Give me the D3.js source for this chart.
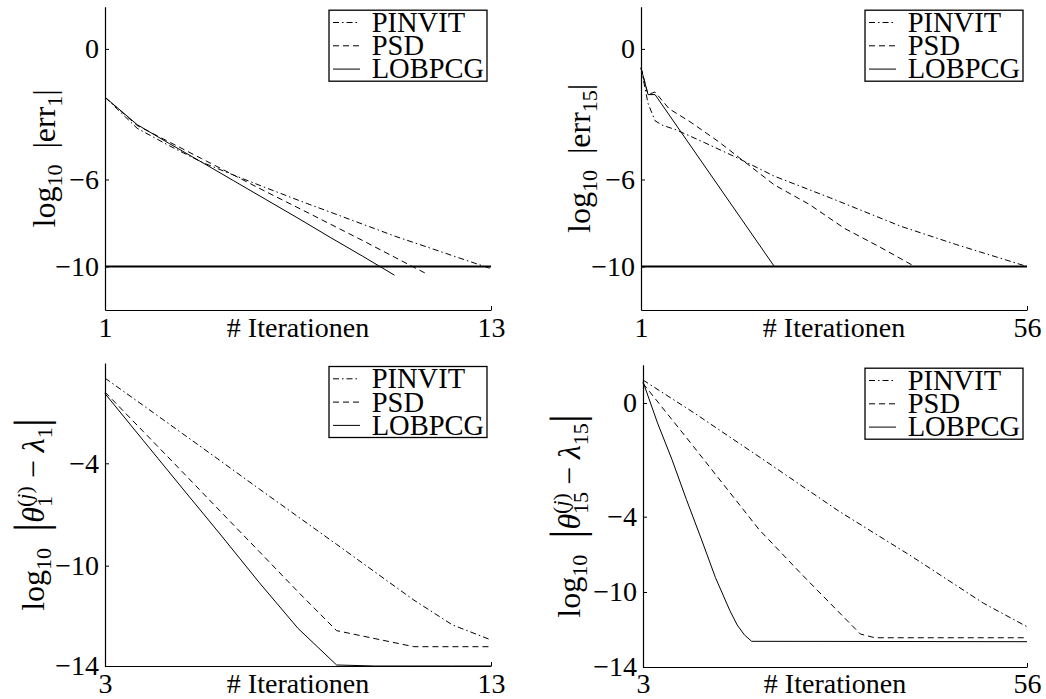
<!DOCTYPE html>
<html>
<head>
<meta charset="utf-8">
<script src="https://cdn.jsdelivr.net/npm/d3@7"></script>
<style>
  body { margin: 0; background: #fff; }
  svg text { font-family: "Liberation Serif", "Times New Roman", serif; fill: #000; }
</style>
</head>
<body>
<div id="chart-area"></div>
<script>
// ---- data (log10 values per iteration) ----
const methods = ["PINVIT", "PSD", "LOBPCG"];

// top left: log10 |err_1|
const itersErr1   = [1, 2, 3, 4, 5, 6, 7, 8, 9, 10, 11, 12, 13];
const pinvitErr1  = [-2.22, -3.65, -4.45, -5.2, -5.8, -6.38, -6.95, -7.5, -8.05, -8.6, -9.1, -9.6, -10.1];
const psdErr1     = [-2.22, -3.52, -4.28, -5.04, -5.8, -6.56, -7.3, -8.05, -8.8, -9.57, -10.34];
const lobpcgErr1  = [-2.22, -3.48, -4.35, -5.2, -6.06, -6.92, -7.78, -8.66, -9.52, -10.4];

// top right: log10 |err_15|
const pinvitErr15It = [1, 2, 3, 4, 6, 10, 15, 20, 28, 38, 46, 56];
const pinvitErr15   = [-0.87, -2.5, -3.3, -3.5, -3.72, -4.3, -5.05, -5.85, -6.85, -8.15, -9.0, -10];
const psdErr15It    = [1, 2, 3, 5, 8, 12, 15, 20, 25, 30, 35, 40];
const psdErr15      = [-0.87, -2.1, -1.98, -2.75, -3.35, -4.25, -5.0, -6.25, -7.15, -8.25, -9.1, -10];
const lobpcgErr15It = [1, 2, 3, 20];
const lobpcgErr15   = [-0.87, -2.1, -2.1, -10];

// bottom left: log10 |theta_1 - lambda_1|
const itersEig1  = [3, 4, 5, 6, 7, 8, 9, 10, 11, 12, 13];
const pinvitEig1 = [1.01, -0.61, -2.24, -3.87, -5.51, -7.13, -8.75, -10.26, -11.37, -12.36, -12.96];
const psdEig1    = [0.19, -2.15, -4.49, -6.84, -9.18, -11.04, -12.59, -12.91, -13.23, -13.23, -13.23];
const lobpcgEig1 = [0.1, -2.68, -5.45, -8.2, -10.68, -12.5, -13.96, -14, -14, -14, -14];

// bottom right: log10 |theta_15 - lambda_15|
const pinvitEig15It = [3, 10, 20, 30, 40, 50, 56];
const pinvitEig15   = [0.81, -0.34, -2.06, -3.8, -7.13, -10.6, -11.85];
const psdEig15It    = [3, 10, 19, 25, 33, 35, 56];
const psdEig15      = [0.69, -1.54, -5.01, -8.65, -12.24, -12.44, -12.44];
const lobpcgEig15It = [3, 5, 7, 9, 11, 13, 15, 16, 17, 18, 56];
const lobpcgEig15   = [0.75, -0.7, -1.99, -3.4, -5.7, -8.85, -11.0, -11.76, -12.29, -12.63, -12.65];

const errTol = -10;

// tick labels
const xTicksErr1 = [1, 13], xTicksErr15 = [1, 56];
const xTicksEig1 = [3, 13], xTicksEig15 = [3, 56];
const yTicksErr = [0, -6, -10];
const yTicksEig1 = [-4, -10, -14];
const yTicksEig15 = [0, -4, -10, -14];

// ---- layout ----
const W = 1046, H = 699;
const dashes = { PINVIT: "6,3,1.5,3", PSD: "6,4", LOBPCG: null };

const svg = d3.select("#chart-area").append("svg")
    .attr("width", W).attr("height", H)
    .attr("font-family", "'Liberation Serif', 'Times New Roman', serif");

const zip = (xs, ys) => ys.map((v, i) => [xs[i], v]);

const panels = [
  { left: 105, right: 491, yDom: [-12, 1.94], yRng: [310, 6.7], bottom: 310,
    xDom: [1, 13], xTicks: xTicksErr1, yTicks: yTicksErr, pad: 7, tol: true,
    labelX: 55, label: "err1",
    series: [zip(itersErr1, pinvitErr1), zip(itersErr1, psdErr1), zip(itersErr1, lobpcgErr1)] },
  { left: 641, right: 1027, yDom: [-12, 1.94], yRng: [310, 6.7], bottom: 310,
    xDom: [1, 56], xTicks: xTicksErr15, yTicks: yTicksErr, pad: 7, tol: true,
    labelX: 590, label: "err15",
    series: [zip(pinvitErr15It, pinvitErr15), zip(psdErr15It, psdErr15), zip(lobpcgErr15It, lobpcgErr15)] },
  { left: 105, right: 491, yDom: [-14, -10, -4, 1.9], yRng: [666, 565.7, 463.3, 363], bottom: 666,
    xDom: [3, 13], xTicks: xTicksEig1, yTicks: yTicksEig1, pad: 7, tol: false,
    labelX: 44, label: "eig1",
    series: [zip(itersEig1, pinvitEig1), zip(itersEig1, psdEig1), zip(itersEig1, lobpcgEig1)] },
  { left: 643, right: 1027, yDom: [-14, -10, -4, 0, 1.35], yRng: [667, 592, 516.7, 403, 364.7], bottom: 667,
    xDom: [3, 56], xTicks: xTicksEig15, yTicks: yTicksEig15, pad: 6, tol: false,
    labelX: 580, label: "eig15",
    series: [zip(pinvitEig15It, pinvitEig15), zip(psdEig15It, psdEig15), zip(lobpcgEig15It, lobpcgEig15)] }
];

const FS = 28;      // tick / legend font size
const LF = 32, SF = 22;  // y label font, sub/sup font

function yLabel(p, cy) {
  const t = svg.append("text")
      .attr("transform", "translate(" + p.labelX + "," + cy + ") rotate(-90)")
      .attr("text-anchor", "middle")
      .attr("font-size", LF);
  t.append("tspan").text("log");
  t.append("tspan").attr("font-size", SF).attr("dy", 7).text("10");
  const idx = p.label.replace(/^[a-z]+/, "");
  if (p.label.startsWith("err")) {
    t.append("tspan").attr("dy", -7).text("\u2002|err");
    t.append("tspan").attr("font-size", SF).attr("dy", 7).text(idx);
    t.append("tspan").attr("dy", -7).text("|");
  } else {
    t.append("tspan").attr("dy", -7).text("\u2002");
    t.append("tspan").attr("font-size", 46).attr("dy", 2).text("|");
    t.append("tspan").attr("font-style", "italic").attr("dy", -2).text("\u03b8");
    t.append("tspan").attr("font-size", SF).attr("dy", 8).text(idx);
    t.append("tspan").attr("font-size", SF).attr("dx", -SF * 0.5 * idx.length).attr("dy", -20).text("(");
    t.append("tspan").attr("font-size", SF).attr("font-style", "italic").text("j");
    t.append("tspan").attr("font-size", SF).text(")");
    t.append("tspan").attr("dy", 12).text(" \u2212 ");
    t.append("tspan").attr("font-style", "italic").text("\u03bb");
    t.append("tspan").attr("font-size", SF).attr("dy", 8).text(idx);
    t.append("tspan").attr("font-size", 46).attr("dy", -6).text("|");
  }
}

panels.forEach(p => {
  const x = d3.scaleLinear().domain(p.xDom).range([p.left, p.right]);
  const y = d3.scaleLinear().domain(p.yDom).range(p.yRng);
  const top = p.yRng[p.yRng.length - 1];

  // threshold line
  if (p.tol) {
    svg.append("line")
      .attr("x1", x(p.xDom[0])).attr("x2", x(p.xDom[1]))
      .attr("y1", y(errTol)).attr("y2", y(errTol))
      .attr("stroke", "#000").attr("stroke-width", 2);
  }

  const line = d3.line().x(d => x(d[0])).y(d => y(d[1]));
  p.series.forEach((s, i) => {
    svg.append("path")
      .attr("d", line(s))
      .attr("fill", "none")
      .attr("stroke", "#000")
      .attr("stroke-width", 1)
      .attr("stroke-dasharray", dashes[methods[i]]);
  });

  // axes
  const xAxis = svg.append("g")
      .attr("transform", "translate(0," + p.bottom + ")")
      .call(d3.axisBottom(x).tickValues(p.xTicks).tickSizeInner(-4).tickSizeOuter(0)
              .tickPadding(p.pad).tickFormat(d3.format("d")));
  const yAxis = svg.append("g")
      .attr("transform", "translate(" + p.left + ",0)")
      .call(d3.axisLeft(y).tickValues(p.yTicks).tickSizeInner(-4).tickSizeOuter(0)
              .tickPadding(6).tickFormat(d3.format("d")));
  [xAxis, yAxis].forEach(a => {
    a.attr("font-family", null).attr("font-size", FS);
    a.select(".domain").attr("stroke", "#000").attr("stroke-width", 1.2);
    a.selectAll(".tick line").attr("stroke", "#000");
    a.selectAll(".tick text").attr("fill", "#000");
  });

  // x label
  svg.append("text")
    .attr("x", (p.left + p.right) / 2)
    .attr("y", p.bottom + p.pad + 0.71 * FS)
    .attr("text-anchor", "middle")
    .attr("font-size", FS)
    .text("# Iterationen");

  yLabel(p, (top + p.bottom) / 2);

  // legend
  const lw = 158, lh = 71;
  const lg = svg.append("g")
      .attr("transform", "translate(" + (p.right - 4 - lw) + "," + (top + 3.5) + ")");
  lg.append("rect").attr("width", lw).attr("height", lh)
    .attr("fill", "#fff").attr("stroke", "#000").attr("stroke-width", 1.3);
  methods.forEach((m, i) => {
    const by = 21.7 + i * 23.3;
    lg.append("line")
      .attr("x1", 4).attr("x2", 31).attr("y1", by - 9.4).attr("y2", by - 9.4)
      .attr("stroke", "#000").attr("stroke-width", 1)
      .attr("stroke-dasharray", dashes[m]);
    lg.append("text")
      .attr("x", 42.7).attr("y", by)
      .attr("font-size", 28.5)
      .text(m);
  });
});
</script>
</body>
</html>
